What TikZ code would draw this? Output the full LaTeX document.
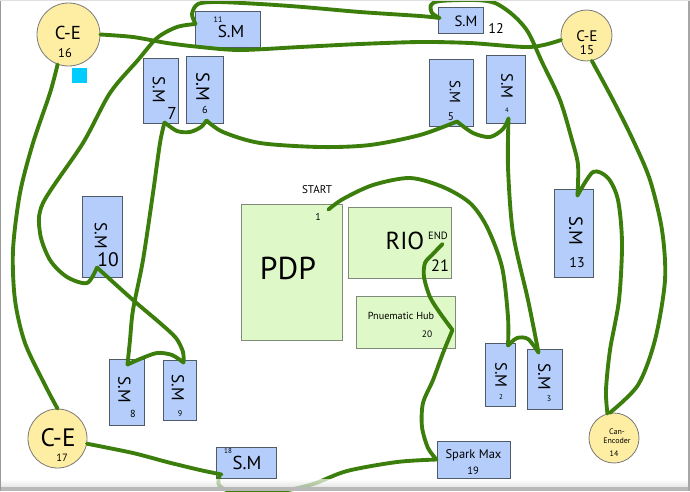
\documentclass[tikz,border=0pt]{standalone}
\usepackage{fontspec}
\setmainfont{PT Sans}
\usetikzlibrary{fit}
\definecolor{smfill}{HTML}{B4CDFA}
\definecolor{smline}{HTML}{4F5B66}
\definecolor{hwfill}{HTML}{DEF9C7}
\definecolor{hwline}{HTML}{7F8A7A}
\definecolor{cefill}{HTML}{FEEEA4}
\definecolor{celine}{HTML}{7A7A7A}
\definecolor{wirecol}{HTML}{3C7E0B}
\definecolor{markcol}{HTML}{00CCFF}
\newcommand{\fsz}[1]{\fontsize{#1}{#1}\selectfont}

\begin{document}
\begin{tikzpicture}[
		x=0.03cm,
		y=-0.03cm
	]
	\tikzset{
		smbox/.style = {draw=smline, fill=smfill, line width=0.8pt, inner sep=0pt},
		hwbox/.style = {draw=hwline, fill=hwfill, line width=0.8pt, inner sep=0pt},
		cenode/.style = {circle, draw=celine, fill=cefill, line width=0.7pt, inner sep=0pt},
		lbl/.style = {inner sep=0pt},
		vlbl/.style = {inner sep=0pt, rotate=-90},
		wire/.style = {draw=wirecol, line width=3.3pt, line cap=round, line join=round},
	}
		\useasboundingbox (0,0) rectangle (690,491);
		%
		\node[cenode, minimum size=1.89cm] at (68.5,34.5) (ce16) {};
		\node[cenode, minimum size=1.53cm] at (586.5,35.5) (ce15) {};
		\node[cenode, minimum size=1.77cm] at (57.5,438.5) (ce17) {};
		\node[cenode, minimum size=1.50cm] at (614,438) (can14) {};
		%
		\node[smbox, fit={(195,11) (260,47)}] (sm11) {};
		\node[smbox, fit={(438,7) (483,33)}] (sm12) {};
		\node[smbox, fit={(143,58) (178,123)}] (sm7) {};
		\node[smbox, fit={(186,56) (223,123)}] (sm6) {};
		\node[smbox, fit={(429,59) (473,126)}] (sm5) {};
		\node[smbox, fit={(486,55) (525,123)}] (sm4) {};
		\node[smbox, fit={(82,196) (122,277)}] (sm10) {};
		\node[smbox, fit={(554,189) (593,277)}] (sm13) {};
		\node[smbox, fit={(109,359) (144,425)}] (sm8) {};
		\node[smbox, fit={(163,360) (196,420)}] (sm9) {};
		\node[smbox, fit={(485,343) (515,406)}] (sm2) {};
		\node[smbox, fit={(527,349) (562,409)}] (sm3) {};
		\node[smbox, fit={(216,447) (276,478)}] (sm18) {};
		\node[smbox, fit={(437,441) (510,478)}] (spark) {};
		%
		\node[hwbox, fit={(241,204) (342,340)}] (pdp) {};
		\node[hwbox, fit={(348,207) (451,278)}] (rio) {};
		\node[hwbox, fit={(356,296) (455,348)}] (hub) {};
		%
		\node[lbl, font=\fsz{16}] at (68,33) (ce16a) {C-E};
		\node[lbl, font=\fsz{10.7}] at (65,53) (ce16b) {16};
		\node[lbl, font=\fsz{13}] at (587,36) (ce15a) {C-E};
		\node[lbl, font=\fsz{11}] at (587,50) (ce15b) {15};
		\node[lbl, font=\fsz{21.5}] at (58,438) (ce17a) {C-E};
		\node[lbl, font=\fsz{9}] at (62,458) (ce17b) {17};
		\node[lbl, font=\fsz{6.8}] at (617,432) (can14a) {Can-};
		\node[lbl, font=\fsz{6.8}] at (617,441) (can14b) {Encoder};
		\node[lbl, font=\fsz{6.8}] at (614,454) (can14c) {14};
		%
		\node[lbl, font=\fsz{6.8}] at (218,20) (sm11n) {11};
		\node[lbl, font=\fsz{14.7}] at (231,31) (sm11t) {S.M};
		\node[lbl, font=\fsz{12.7}] at (466,21) (sm12t) {S.M};
		\node[lbl, font=\fsz{12}] at (496,28) (sm12n) {12};
		\node[vlbl, font=\fsz{14.7}] at (159,90) (sm7t) {S.M};
		\node[lbl, font=\fsz{14.7}] at (172,113) (sm7n) {7};
		\node[vlbl, font=\fsz{15.9}] at (203,87) (sm6t) {S.M};
		\node[lbl, font=\fsz{8.7}] at (205,110) (sm6n) {6};
		\node[vlbl, font=\fsz{12.7}] at (455,92) (sm5t) {S.M};
		\node[lbl, font=\fsz{9.5}] at (451,117) (sm5n) {5};
		\node[vlbl, font=\fsz{14}] at (507,86) (sm4t) {S.M};
		\node[lbl, font=\fsz{5.5}] at (507,110) (sm4n) {4};
		\node[vlbl, font=\fsz{14.7}] at (101,236) (sm10t) {S.M};
		\node[lbl, font=\fsz{16.7}] at (108,260) (sm10n) {10};
		\node[vlbl, font=\fsz{16}] at (576,231) (sm13t) {S.M};
		\node[lbl, font=\fsz{12}] at (577,263) (sm13n) {13};
		\node[vlbl, font=\fsz{14.7}] at (124.5,390) (sm8t) {S.M};
		\node[lbl, font=\fsz{8.7}] at (133,414) (sm8n) {8};
		\node[vlbl, font=\fsz{14.7}] at (178,388) (sm9t) {S.M};
		\node[lbl, font=\fsz{7}] at (180,414) (sm9n) {9};
		\node[vlbl, font=\fsz{14}] at (501,375) (sm2t) {S.M};
		\node[lbl, font=\fsz{6}] at (501,397) (sm2n) {2};
		\node[vlbl, font=\fsz{14.7}] at (544.5,377) (sm3t) {S.M};
		\node[lbl, font=\fsz{6.8}] at (549,399) (sm3n) {3};
		\node[lbl, font=\fsz{6}] at (228,451) (sm18n) {18};
		\node[lbl, font=\fsz{16}] at (247,463) (sm18t) {S.M};
		\node[lbl, font=\fsz{10.7}] at (473.5,455.5) (sparkt) {Spark Max};
		\node[lbl, font=\fsz{9}] at (473,471) (sparkn) {19};
		%
		\node[lbl, font=\fsz{27}] at (288,268) (pdpt) {PDP};
		\node[lbl, font=\fsz{8.5}] at (318,217) (pdpn) {1};
		\node[lbl, font=\fsz{9.5}] at (317,190) (start) {START};
		\node[lbl, font=\fsz{21}] at (405,240.5) (riot) {RIO};
		\node[lbl, font=\fsz{9}] at (438,235.5) (rioend) {END};
		\node[lbl, font=\fsz{14}] at (440,266) (rion) {21};
		\node[lbl, font=\fsz{8.7}] at (401,316) (hubt) {Pnuematic Hub};
		\node[lbl, font=\fsz{8}] at (427,334) (hubn) {20};
		%
		\fill[markcol] (72,68) rectangle (87,83);
		%
		\draw[wire] plot[smooth] coordinates {(ce16.east) (133,37) (167,43) (200,47) (240,50) (300,47) (360,44) (420,42) (470,43) (530,47) (ce15.190)};
		\draw[wire] plot[smooth] coordinates {(ce16.250) (50,93) (33,143) (20,193) (13,250) (15,300) (25,343) (45,385) (ce17.north)};
		\draw[wire] plot[smooth] coordinates {(ce17.-10) (133,453) (167,462) (200,470) ([shift={(6,-4)}]sm18.south west)};
		\draw[wire] plot[smooth] coordinates {([shift={(4,-3)}]sm18.south west) (219,485) (232,491) (280,491) (313,484) (347,471) (397,462) (spark.west)};
		\draw[wire] plot[smooth] coordinates {(spark.west) (428,448) (422,427) (423,403) (433,380) (443,353) ([shift={(-3,8)}]hub.east)};
		\draw[wire] plot[smooth] coordinates {([shift={(-3,8)}]hub.east) (440,313) (430,297) (424,277) (425,263) (432,255) ([shift={(-9,1.5)}]rio.east)};
		%
		\draw[wire] plot[smooth] coordinates {([shift={(-14,6)}]pdp.north east) (343,199) (373,185) (410,178) (443,187) (470,203) (487,227) (502,267) (508,317) ([shift={(8,3)}]sm2.north)};
		\draw[wire] plot[smooth] coordinates {([shift={(8,3)}]sm2.north) (517,338) (528,339) ([shift={(-6,4)}]sm3.north)};
		\draw[wire] plot[smooth] coordinates {([shift={(3,-5)}]sm4.south) (508,167) (513,233) (528,300) ([shift={(-6,4)}]sm3.north)};
		\draw[wire] plot[smooth] coordinates {([shift={(6,-5)}]sm5.south) (473,133) (490,137) (503,129) ([shift={(3,-5)}]sm4.south)};
		\draw[wire] plot[smooth] coordinates {([shift={(2,-3)}]sm6.south) (223,132) (260,143) (320,147) (370,145) (420,135) ([shift={(6,-5)}]sm5.south)};
		\draw[wire] plot[smooth] coordinates {([shift={(4,-1)}]sm7.south) (177,131) (190,132) (201,127) ([shift={(2,-3)}]sm6.south)};
		\draw[wire] plot[smooth] coordinates {([shift={(4,-1)}]sm7.south) (160,143) (153,193) (143,260) (133,310) (130,340) ([shift={(1,6)}]sm8.north)};
		\draw[wire] plot[smooth] coordinates {([shift={(1,6)}]sm8.north) (140,359) (157,353) (172,355) ([shift={(4,3)}]sm9.north)};
		\draw[wire] plot[smooth] coordinates {([shift={(-5,-10)}]sm10.south) (133,300) (160,323) (176,338) (183,352) ([shift={(4,3)}]sm9.north)};
		\draw[wire] plot[smooth] coordinates {([shift={(1,-5)}]sm11.west) (177,27) (157,38) (138,60) (110,93) (83,143) (43,203) (40,233) (50,260) (67,277) (87,283) ([shift={(-5,-10)}]sm10.south)};
		\draw[wire] plot[smooth] coordinates {([shift={(1,-5)}]sm11.west) (192,14) (198,4) (217,2) (260,4) (303,7) (360,12) (420,16) ([shift={(2,-2)}]sm12.west)};
		\draw[wire] plot[smooth] coordinates {([shift={(2,-2)}]sm12.west) (432,13) (431,5) (440,1) (475,0) (495,3) (513,15) (528,32) (542,62) (560,100) (572,140) (578,165) ([shift={(4,7)}]sm13.north)};
		\draw[wire] plot[smooth] coordinates {([shift={(4,7)}]sm13.north) (593,172) (608,178) (618,200) (622,243) (619,300) (610,350) (606,390) (can14.105)};
		\draw[wire] plot[smooth] coordinates {(ce15.-78) (613,100) (633,140) (650,180) (662,230) (665,280) (655,340) (638,385) (can14.100)};
		%
		\shade[top color=white, bottom color=black!14, fill opacity=0.7] (0,479) rectangle (690,487);
		\fill[black!28] (0,487) rectangle (690,491);
		\fill[black!40] (0,0) rectangle (1.5,491);
		\fill[black!35] (687.5,0) rectangle (690,491);
		\fill[black!12] (0,0) rectangle (690,1);
	\end{tikzpicture}
\end{document}
